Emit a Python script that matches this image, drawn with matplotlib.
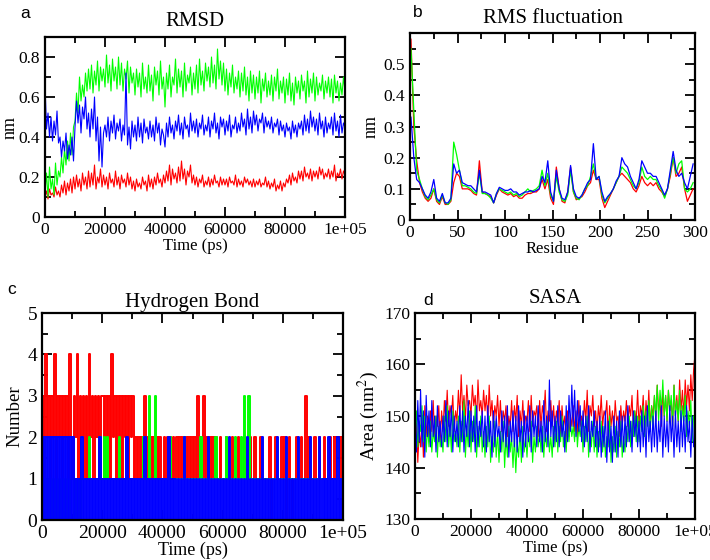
import numpy as np
import matplotlib
matplotlib.use("Agg")
import matplotlib.pyplot as plt
from matplotlib.ticker import MultipleLocator

plt.rcParams['font.family'] = ['Liberation Serif', 'DejaVu Serif']
plt.rcParams['mathtext.fontset'] = 'stix'

# ---- RMSD in 1/100 nm, one value every 500 ps (rows of 5 ns) ----
rmsd_green = [12, 22, 10, 25, 14, 19, 11, 27, 16, 23,
              20, 30, 22, 34, 26, 38, 28, 42, 31, 45,
              48, 62, 52, 70, 58, 66, 60, 72, 63, 74,
              64, 76, 62, 73, 66, 78, 63, 75, 68, 74,
              65, 81, 67, 76, 63, 79, 68, 75, 64, 80,
              66, 77, 63, 74, 69, 78, 62, 75, 67, 72,
              61, 74, 65, 72, 60, 77, 64, 70, 62, 76,
              63, 71, 58, 75, 66, 73, 61, 78, 64, 70,
              55, 72, 64, 76, 60, 70, 66, 79, 62, 74,
              65, 73, 60, 77, 63, 71, 67, 75, 61, 72,
              64, 76, 62, 79, 66, 73, 63, 77, 68, 75,
              65, 80, 67, 76, 64, 84, 69, 78, 66, 77,
              63, 74, 61, 72, 65, 76, 62, 70, 64, 73,
              60, 72, 63, 75, 61, 70, 58, 73, 62, 71,
              59, 70, 62, 73, 57, 69, 63, 72, 60, 68,
              61, 71, 58, 70, 63, 74, 59, 68, 62, 70,
              57, 69, 61, 72, 58, 67, 56, 70, 62, 68,
              59, 71, 63, 68, 57, 73, 60, 69, 62, 72,
              58, 70, 61, 67, 63, 71, 59, 68, 62, 70,
              60, 69, 57, 71, 62, 68, 58, 67, 61, 70,
              63]
rmsd_blue = [66, 44, 52, 40, 50, 38, 48, 41, 53, 37,
             40, 30, 38, 33, 42, 29, 36, 31, 40, 28,
             45, 58, 47, 56, 42, 55, 49, 60, 44, 52,
             40, 54, 44, 60, 38, 50, 28, 45, 25, 42,
             46, 40, 50, 38, 48, 42, 51, 39, 47, 43,
             49, 38, 46, 41, 72, 36, 45, 34, 48, 40,
             46, 38, 50, 40, 47, 37, 49, 42, 45, 39,
             48, 40, 46, 38, 50, 42, 47, 36, 44, 41,
             35, 47, 40, 50, 42, 46, 39, 48, 43, 51,
             41, 47, 39, 50, 44, 46, 40, 52, 43, 48,
             42, 49, 40, 47, 44, 51, 41, 46, 43, 50,
             40, 48, 44, 52, 42, 47, 39, 50, 45, 49,
             41, 48, 43, 51, 40, 46, 44, 50, 42, 47,
             43, 52, 45, 49, 41, 54, 44, 50, 42, 53,
             46, 51, 43, 49, 47, 52, 42, 50, 45, 48,
             44, 50, 42, 47, 45, 49, 41, 48, 43, 46,
             40, 47, 43, 45, 39, 48, 42, 46, 40, 47,
             44, 48, 41, 51, 43, 49, 42, 53, 45, 50,
             43, 49, 41, 52, 44, 48, 40, 50, 42, 47,
             44, 50, 41, 52, 43, 48, 40, 51, 42, 47,
             45]
rmsd_red = [10, 13, 9, 14, 11, 12, 10, 15, 11, 13,
            10, 16, 12, 18, 11, 17, 13, 19, 12, 20,
            14, 21, 15, 19, 13, 22, 16, 20, 14, 23,
            15, 22, 16, 26, 14, 20, 17, 24, 15, 21,
            16, 20, 14, 22, 17, 19, 15, 23, 16, 20,
            14, 21, 17, 19, 15, 22, 16, 20, 14, 18,
            13, 19, 15, 17, 14, 20, 16, 18, 13, 21,
            15, 19, 14, 20, 16, 22, 17, 19, 15, 21,
            17, 23, 18, 26, 16, 24, 19, 22, 17, 25,
            18, 28, 19, 24, 16, 23, 20, 26, 17, 21,
            16, 20, 15, 19, 17, 21, 15, 18, 16, 20,
            15, 19, 16, 21, 17, 18, 15, 20, 16, 19,
            16, 19, 15, 20, 17, 18, 16, 21, 15, 19,
            16, 18, 15, 20, 17, 19, 16, 18, 15, 19,
            15, 18, 16, 19, 15, 17, 16, 20, 15, 18,
            14, 17, 15, 19, 13, 16, 14, 18, 13, 17,
            15, 19, 17, 21, 16, 22, 18, 20, 17, 23,
            19, 23, 18, 25, 20, 22, 19, 24, 18, 23,
            20, 23, 19, 25, 21, 24, 19, 22, 20, 24,
            19, 23, 20, 26, 18, 22, 20, 24, 19, 23,
            21]

# ---- RMSF (nm), every 3rd residue ----
rmsf_red = [0.58, 0.3, 0.19, 0.12, 0.09, 0.07, 0.06, 0.07, 0.1, 0.06,
            0.05, 0.075, 0.05, 0.05, 0.06, 0.12, 0.15, 0.14, 0.1, 0.1,
            0.1, 0.095, 0.085, 0.08, 0.19, 0.09, 0.085, 0.08, 0.075, 0.055,
            0.08, 0.1, 0.09, 0.085, 0.08, 0.085, 0.075, 0.08, 0.07, 0.07,
            0.08, 0.085, 0.085, 0.09, 0.09, 0.1, 0.13, 0.1, 0.13, 0.07,
            0.05, 0.17, 0.1, 0.06, 0.055, 0.09, 0.17, 0.09, 0.065, 0.07,
            0.075, 0.09, 0.11, 0.12, 0.16, 0.13, 0.13, 0.07, 0.04, 0.06,
            0.08, 0.1, 0.12, 0.14, 0.15, 0.14, 0.13, 0.12, 0.1, 0.09,
            0.11, 0.14, 0.12, 0.11, 0.12, 0.11, 0.12, 0.1, 0.09, 0.075,
            0.1, 0.14, 0.2, 0.14, 0.15, 0.17, 0.1, 0.06, 0.08, 0.1]
rmsf_green = [0.55, 0.35, 0.16, 0.13, 0.1, 0.075, 0.065, 0.08, 0.1, 0.065,
              0.055, 0.08, 0.055, 0.05, 0.065, 0.25, 0.21, 0.16, 0.11, 0.11,
              0.105, 0.1, 0.09, 0.085, 0.15, 0.085, 0.085, 0.08, 0.07, 0.055,
              0.085, 0.1, 0.095, 0.09, 0.085, 0.09, 0.08, 0.085, 0.075, 0.08,
              0.09, 0.1, 0.09, 0.095, 0.1, 0.11, 0.16, 0.11, 0.15, 0.08,
              0.06, 0.14, 0.09, 0.065, 0.06, 0.08, 0.16, 0.09, 0.07, 0.065,
              0.08, 0.1, 0.11, 0.14, 0.18, 0.13, 0.14, 0.08, 0.055, 0.07,
              0.085, 0.1, 0.12, 0.14, 0.17, 0.16, 0.15, 0.13, 0.11, 0.1,
              0.12, 0.17, 0.14, 0.13, 0.14, 0.13, 0.13, 0.11, 0.095, 0.07,
              0.1, 0.15, 0.2, 0.15, 0.18, 0.19, 0.1, 0.09, 0.1, 0.12]
rmsf_blue = [0.33, 0.2, 0.13, 0.12, 0.1, 0.08, 0.07, 0.09, 0.13, 0.07,
             0.06, 0.085, 0.055, 0.055, 0.07, 0.18, 0.15, 0.16, 0.12, 0.115,
             0.11, 0.11, 0.1, 0.09, 0.16, 0.09, 0.09, 0.085, 0.08, 0.055,
             0.085, 0.105, 0.1, 0.095, 0.095, 0.1, 0.09, 0.09, 0.08, 0.085,
             0.09, 0.09, 0.095, 0.09, 0.095, 0.1, 0.14, 0.12, 0.19, 0.09,
             0.06, 0.16, 0.1, 0.07, 0.065, 0.09, 0.175, 0.1, 0.075, 0.07,
             0.08, 0.1, 0.12, 0.13, 0.245, 0.13, 0.14, 0.09, 0.06, 0.075,
             0.085, 0.1, 0.125, 0.14, 0.2, 0.18, 0.17, 0.14, 0.12, 0.1,
             0.13, 0.19, 0.17, 0.15, 0.15, 0.14, 0.14, 0.12, 0.1, 0.08,
             0.1, 0.16, 0.22, 0.16, 0.14, 0.15, 0.12, 0.1, 0.14, 0.18]

# ---- Hydrogen bonds, one digit every 500 ps, blocks of 10 ns ----
hb_red = ["31423132413231323142", "13241323131423132313", "31323142313231323132",
          "31212121312121212121", "12121212121212121212", "12131213121212121121",
          "11211121112111211121", "12111211111201121112", "12012101121121131211",
          "121121121112112111211"]
hb_green = ["01010101010101010101", "10101011111211111121", "12121111111211111111",
            "11111112111311131111", "11111211111111211111", "11111211111111121111",
            "11211111211121311311", "11111111111111111111", "11111111111111111111",
            "111111111111111111111"]
hb_blue = ["20202020202020202020", "20101020101010101020", "10101010101010102010",
           "10101010201010101010", "10102010101010201010", "10101010102010101010",
           "10102010101010102010", "10101020101010102010", "10201010102010101020",
           "101020101020101020102"]

# ---- SASA (nm^2), one value every 500 ps ----
sasa_red = [143, 149, 141, 147, 144, 150, 142, 152, 146, 150,
            145, 151, 147, 153, 146, 150, 148, 152, 145, 151,
            147, 153, 149, 155, 148, 152, 150, 154, 147, 151,
            149, 155, 150, 158, 151, 154, 149, 156, 152, 153,
            150, 156, 152, 154, 149, 157, 151, 153, 150, 155,
            151, 154, 149, 156, 150, 153, 148, 152, 150, 154,
            148, 153, 147, 151, 149, 152, 146, 150, 148, 153,
            147, 152, 149, 154, 146, 151, 148, 153, 147, 150,
            149, 153, 147, 154, 148, 151, 150, 152, 146, 153,
            148, 152, 150, 155, 147, 151, 149, 153, 148, 152,
            147, 151, 149, 153, 146, 152, 148, 150, 145, 151,
            146, 150, 148, 152, 147, 151, 146, 153, 148, 150,
            148, 153, 149, 155, 147, 152, 150, 154, 148, 151,
            147, 152, 149, 154, 148, 151, 150, 153, 146, 152,
            148, 151, 147, 153, 149, 150, 146, 152, 148, 151,
            149, 153, 148, 152, 150, 154, 147, 151, 149, 155,
            148, 152, 150, 154, 147, 153, 149, 155, 148, 152,
            150, 154, 149, 156, 151, 153, 148, 155, 150, 154,
            149, 155, 151, 153, 148, 156, 150, 154, 149, 157,
            151, 155, 150, 157, 152, 156, 151, 158, 153, 159,
            162]
sasa_green = [146, 151, 144, 149, 147, 152, 145, 150, 143, 148,
              144, 149, 143, 147, 145, 150, 142, 148, 144, 146,
              143, 150, 145, 152, 144, 148, 143, 151, 145, 147,
              144, 150, 143, 149, 145, 153, 142, 148, 144, 151,
              143, 149, 145, 152, 142, 148, 144, 150, 143, 147,
              142, 148, 144, 150, 141, 146, 143, 149, 142, 147,
              141, 147, 143, 149, 140, 146, 142, 148, 143, 146,
              140, 146, 139, 145, 142, 147, 141, 148, 143, 146,
              142, 147, 144, 149, 141, 146, 143, 148, 144, 147,
              143, 148, 142, 147, 144, 149, 143, 146, 142, 148,
              144, 149, 143, 148, 145, 150, 144, 147, 143, 149,
              145, 149, 146, 148, 145, 150, 144, 148, 146, 149,
              143, 148, 145, 150, 142, 147, 144, 149, 143, 148,
              142, 147, 144, 149, 143, 148, 142, 146, 144, 150,
              141, 146, 143, 148, 142, 147, 144, 149, 142, 146,
              143, 148, 145, 150, 144, 149, 146, 151, 145, 150,
              145, 150, 147, 152, 146, 151, 148, 153, 147, 152,
              148, 154, 150, 156, 149, 155, 151, 157, 150, 154,
              149, 155, 151, 154, 148, 156, 150, 153, 149, 155,
              147, 152, 149, 154, 146, 151, 148, 153, 145, 150,
              149]
sasa_blue = [149, 143, 153, 145, 155, 144, 151, 142, 154, 146,
             151, 144, 153, 146, 150, 143, 152, 145, 149, 144,
             150, 145, 153, 144, 151, 146, 152, 143, 150, 145,
             149, 144, 152, 145, 151, 143, 150, 146, 153, 144,
             151, 145, 150, 143, 152, 144, 149, 146, 151, 144,
             150, 143, 152, 145, 149, 142, 151, 144, 150, 146,
             148, 143, 151, 145, 150, 144, 152, 142, 149, 145,
             151, 144, 150, 143, 152, 145, 149, 142, 151, 144,
             150, 145, 152, 143, 151, 146, 150, 144, 152, 145,
             149, 143, 153, 145, 150, 144, 157, 146, 151, 144,
             150, 145, 152, 144, 151, 146, 149, 143, 152, 145,
             154, 147, 156, 148, 155, 146, 153, 147, 152, 145,
             151, 144, 150, 145, 152, 143, 149, 146, 151, 144,
             149, 143, 150, 142, 148, 144, 151, 141, 149, 143,
             148, 141, 150, 143, 149, 142, 151, 144, 150, 143,
             150, 144, 152, 145, 149, 143, 151, 146, 150, 144,
             149, 143, 151, 144, 150, 142, 152, 145, 149, 143,
             150, 144, 151, 143, 149, 145, 152, 142, 150, 144,
             149, 143, 152, 145, 150, 142, 151, 144, 149, 143,
             151, 144, 150, 143, 152, 145, 149, 142, 150, 144,
             146]

time_ticks = [0, 20000, 40000, 60000, 80000, 100000]
time_labels = ['0', '20000', '40000', '60000', '80000', '1e+05']
res_ticks = [0, 50, 100, 150, 200, 250, 300]

colors = {'red': '#ff0000', 'green': '#00ff00', 'blue': '#0000ff'}
FS = 12.5


def style(ax):
    for sp in ax.spines.values():
        sp.set_linewidth(1.6)
    ax.tick_params(which='both', direction='in', top=True, right=True,
                   width=1.3, labelsize=FS)
    ax.tick_params(which='major', length=7)
    ax.tick_params(which='minor', length=4)


fig = plt.figure(figsize=(7.1, 5.6), dpi=100)
ax_a = fig.add_axes([0.0634, 0.6125, 0.4225, 0.3214])
ax_b = fig.add_axes([0.5775, 0.6071, 0.4014, 0.334])
ax_c = fig.add_axes([0.0592, 0.0714, 0.424, 0.3696])
ax_d = fig.add_axes([0.5845, 0.0732, 0.3944, 0.3679])

# a: RMSD
t = np.linspace(0, 100000, len(rmsd_red))
for vals, c in [(rmsd_red, 'red'), (rmsd_green, 'green'), (rmsd_blue, 'blue')]:
    ax_a.plot(t, np.array(vals) / 100, color=colors[c], lw=0.8)
ax_a.set_xlim(0, 100000)
ax_a.set_ylim(0, 0.9)
ax_a.set_xticks(time_ticks)
ax_a.set_xticklabels(time_labels)
ax_a.set_yticks([0, 0.2, 0.4, 0.6, 0.8])
ax_a.set_yticklabels(['0', '0.2', '0.4', '0.6', '0.8'])
ax_a.xaxis.set_minor_locator(MultipleLocator(10000))
ax_a.yaxis.set_minor_locator(MultipleLocator(0.1))
ax_a.set_title('RMSD', fontsize=15, pad=8)
ax_a.set_xlabel('Time (ps)', fontsize=12, labelpad=0)
ax_a.set_ylabel('nm', fontsize=13, labelpad=0)
style(ax_a)

# b: RMSF
res = np.arange(1, 300, 3)
ax_b.plot(res, rmsf_red, color=colors['red'], lw=0.9)
ax_b.plot(res, rmsf_green, color=colors['green'], lw=0.9)
ax_b.plot(res, rmsf_blue, color=colors['blue'], lw=0.9)
ax_b.set_xlim(0, 300)
ax_b.set_ylim(0, 0.6)
ax_b.set_xticks(res_ticks)
ax_b.set_yticks([0, 0.1, 0.2, 0.3, 0.4, 0.5])
ax_b.set_yticklabels(['0', '0.1', '0.2', '0.3', '0.4', '0.5'])
ax_b.xaxis.set_minor_locator(MultipleLocator(25))
ax_b.yaxis.set_minor_locator(MultipleLocator(0.05))
ax_b.set_title('RMS fluctuation', fontsize=15, pad=7)
ax_b.set_xlabel('Residue', fontsize=12, labelpad=0)
ax_b.set_ylabel('nm', fontsize=13, labelpad=3)
style(ax_b)

# c: hydrogen bonds
hb = {'red': hb_red, 'green': hb_green, 'blue': hb_blue}
for name in ['red', 'green', 'blue']:
    vals = [int(ch) for ch in ''.join(hb[name])]
    th = np.linspace(0, 100000, len(vals))
    ax_c.plot(th, vals, color=colors[name], lw=1.4, drawstyle='steps-post')
ax_c.set_xlim(0, 100000)
ax_c.set_ylim(0, 5)
ax_c.set_xticks(time_ticks)
ax_c.set_xticklabels(time_labels)
ax_c.set_yticks([0, 1, 2, 3, 4, 5])
ax_c.xaxis.set_minor_locator(MultipleLocator(10000))
ax_c.yaxis.set_minor_locator(MultipleLocator(0.5))
ax_c.set_title('Hydrogen Bond', fontsize=15, pad=4)
ax_c.set_xlabel('Time (ps)', fontsize=13, labelpad=0)
ax_c.set_ylabel('Number', fontsize=13.5, labelpad=3)
style(ax_c)
ax_c.tick_params(labelsize=14)

# d: SASA
ts = np.linspace(0, 100000, len(sasa_red))
for vals, c in [(sasa_red, 'red'), (sasa_green, 'green'), (sasa_blue, 'blue')]:
    ax_d.plot(ts, vals, color=colors[c], lw=0.8)
ax_d.set_xlim(0, 100000)
ax_d.set_ylim(130, 170)
ax_d.set_xticks(time_ticks)
ax_d.set_xticklabels(time_labels)
ax_d.set_yticks([130, 140, 150, 160, 170])
ax_d.xaxis.set_minor_locator(MultipleLocator(10000))
ax_d.yaxis.set_minor_locator(MultipleLocator(5))
ax_d.set_title('SASA', fontsize=15, pad=7)
ax_d.set_xlabel('Time (ps)', fontsize=12, labelpad=0)
ax_d.set_ylabel('Area (nm$^2$)', fontsize=14, labelpad=2)
style(ax_d)

# panel letters
for txt, x, y in [('a', 0.035, 0.975), ('b', 0.588, 0.978), ('c', 0.017, 0.483), ('d', 0.603, 0.463)]:
    fig.text(x, y, txt, fontsize=12.5, family=['Liberation Sans', 'DejaVu Sans'],
             va='center', ha='center')

fig.savefig('out.png', dpi=100)
